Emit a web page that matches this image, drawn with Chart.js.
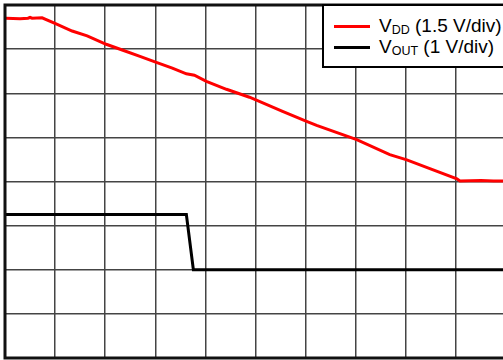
<!DOCTYPE html>
<html>
<head>
<meta charset="utf-8">
<script src="https://cdn.jsdelivr.net/npm/chart.js@4.4.1/dist/chart.umd.min.js"></script>
<style>
    html, body { margin: 0; padding: 0; background: #fff; overflow: hidden; }
    #wrap { position: relative; width: 512px; height: 360px; }
    #legend {
        position: absolute; left: 322px; top: 4px; width: 200px; height: 60px;
        border: 2.5px solid #000; background: #fff;
        font-family: "Liberation Sans", Arial, sans-serif; font-size: 19px; color: #000;
    }
    .item { position: absolute; left: 10px; height: 21px; white-space: nowrap; }
    .swatch { position: absolute; left: 0; top: 0; width: 36px; height: 3px; }
    .label { position: absolute; left: 45px; top: -10px; line-height: 21px; }
    .label sub { font-size: 12.5px; vertical-align: -2px; }
</style>
</head>
<body>
<div id="wrap">
    <canvas id="scope" width="512" height="360"></canvas>
    <div id="legend"></div>
</div>
<script>
// time in divisions (10 across), level in divisions (8 up)
const vddX = [0.02, 0.30, 0.46, 0.50, 0.54, 0.74, 1.02, 1.34, 1.64, 2.02, 2.34, 2.68, 3.02, 3.34, 3.62, 3.78,
    4.02, 4.42, 4.88, 5.54, 6.02, 6.22, 7.02, 7.68, 8.02, 8.48, 9.02, 9.08, 9.50, 9.75, 10.0];
const vddY = [7.70, 7.69, 7.70, 7.72, 7.70, 7.71, 7.57, 7.41, 7.30, 7.11, 6.98, 6.84, 6.70, 6.57, 6.44, 6.41,
    6.27, 6.09, 5.91, 5.59, 5.36, 5.27, 4.95, 4.61, 4.49, 4.29, 4.06, 4.01, 4.02, 4.01, 4.01];
const voutX = [0.02, 3.62, 3.76, 10.0];
const voutY = [3.25, 3.25, 2.00, 2.00];
const seriesNames = ['V', 'V'];
const seriesSubs = ['DD', 'OUT'];
const seriesScales = ['(1.5 V/div)', '(1 V/div)'];
const seriesColors = ['#ff0000', '#000000'];

function toPoints(xs, ys) {
    return xs.map((x, i) => ({ x: x, y: ys[i] }));
}

const framePlugin = {
    id: 'frame',
    afterDraw(chart) {
        const { ctx, chartArea: a } = chart;
        ctx.save();
        ctx.strokeStyle = '#111';
        ctx.lineWidth = 3;
        ctx.strokeRect(a.left, a.top, a.right - a.left, a.bottom - a.top);
        ctx.restore();
    }
};

const axisOpts = (max) => ({
    type: 'linear',
    min: 0,
    max: max,
    ticks: { display: false, stepSize: 1 },
    grid: { color: '#444', lineWidth: 1.5, drawTicks: false, tickLength: 0 },
    border: { display: false }
});

new Chart(document.getElementById('scope'), {
    type: 'line',
    data: {
        datasets: [{
            label: seriesNames[0] + seriesSubs[0] + ' ' + seriesScales[0],
            data: toPoints(vddX, vddY),
            borderColor: seriesColors[0],
            borderWidth: 3,
            pointRadius: 0,
            tension: 0
        }, {
            label: seriesNames[1] + seriesSubs[1] + ' ' + seriesScales[1],
            data: toPoints(voutX, voutY),
            borderColor: seriesColors[1],
            borderWidth: 3,
            pointRadius: 0,
            tension: 0
        }]
    },
    options: {
        responsive: false,
        animation: false,
        devicePixelRatio: 1,
        layout: { padding: { left: 5, top: 5, right: 6, bottom: 2 } },
        plugins: { legend: { display: false }, tooltip: { enabled: false } },
        scales: { x: axisOpts(10), y: axisOpts(8) }
    },
    plugins: [framePlugin]
});

const legend = document.getElementById('legend');
seriesNames.forEach((name, i) => {
    const item = document.createElement('div');
    item.className = 'item';
    item.style.top = (19 + i * 21) + 'px';
    item.innerHTML = '<div class="swatch" style="background:' + seriesColors[i] + '"></div>' +
        '<span class="label">' + name + '<sub>' + seriesSubs[i] + '</sub> ' + seriesScales[i] + '</span>';
    legend.appendChild(item);
});
</script>
</body>
</html>
